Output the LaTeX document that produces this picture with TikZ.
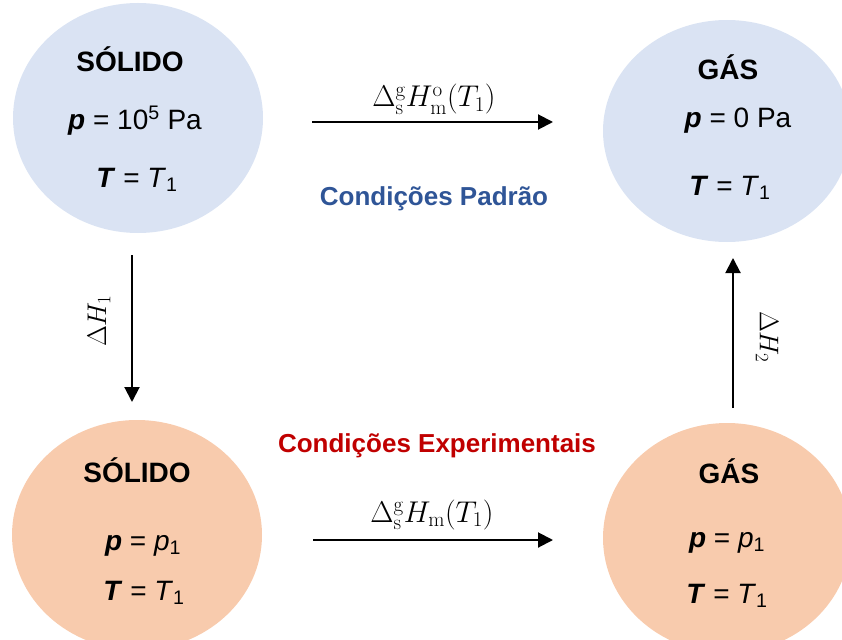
\RequirePackage{fix-cm}
\documentclass[tikz,border=0pt]{standalone}
\usepackage[no-math]{fontspec}
\setmainfont{Liberation Sans}
\usetikzlibrary{shapes.geometric,arrows.meta}
\definecolor{padfill}{HTML}{DAE3F3}
\definecolor{expfill}{HTML}{F8CBAD}
\definecolor{padtxt}{HTML}{2F5597}
\definecolor{exptxt}{HTML}{C00000}
\newcommand{\bp}{\textbf{\textit{p}}}
\newcommand{\bT}{\textbf{\textit{T}}}
\begin{document}
\begin{tikzpicture}[x=1pt,y=-1pt,
  stateell/.style={ellipse,draw=none,inner sep=0pt},
  txt/.style={anchor=base,inner sep=0pt,font=\fontsize{28}{30}\selectfont},
  cond/.style={anchor=base,inner sep=0pt,font=\fontsize{26}{30}\selectfont\bfseries},
  mlabel/.style={inner sep=0pt,font=\fontsize{30}{33}\selectfont},
  vlabel/.style={inner sep=0pt,font=\fontsize{27}{30}\selectfont},
  conn/.style={line width=2pt,-{Triangle[length=15pt,width=15pt]}}]
\useasboundingbox (0,0) rectangle (842,639);
\clip (0,0) rectangle (842,639);
% ellipses
\node[stateell,fill=padfill,minimum width=250pt,minimum height=230pt] (sp) at (138,118) {};
\node[stateell,fill=padfill,minimum width=248pt,minimum height=222pt] (gp) at (727,131) {};
\node[stateell,fill=expfill,minimum width=250pt,minimum height=230pt] (se) at (137,535) {};
\node[stateell,fill=expfill,minimum width=248pt,minimum height=230pt] (ge) at (727,538) {};
% texts top-left
\node[txt] (sp1) at (130,72) {\bfseries SÓLIDO};
\node[txt] (sp2) at (135,130) {\bp{} = 10\textsuperscript{5} Pa};
\node[txt] (sp3) at (137,187) {\bT{} = \textit{T}\textsubscript{1}};
% texts top-right
\node[txt] (gp1) at (728,80) {\bfseries GÁS};
\node[txt] (gp2) at (738,128) {\bp{} = 0 Pa};
\node[txt] (gp3) at (730,195) {\bT{} = \textit{T}\textsubscript{1}};
% texts bottom-left
\node[txt] (se1) at (137,482) {\bfseries SÓLIDO};
\node[txt] (se2) at (143,550) {\bp{} = \textit{p}\textsubscript{1}};
\node[txt] (se3) at (144,600) {\bT{} = \textit{T}\textsubscript{1}};
% texts bottom-right
\node[txt] (ge1) at (729,483) {\bfseries GÁS};
\node[txt] (ge2) at (727,547) {\bp{} = \textit{p}\textsubscript{1}};
\node[txt] (ge3) at (727,603) {\bT{} = \textit{T}\textsubscript{1}};
% condition labels
\node[cond,text=padtxt] (cp) at (434,205) {Condições Padrão};
\node[cond,text=exptxt] (ce) at (437,452) {Condições Experimentais};
% arrow endpoints
\coordinate (a1s) at (312,122); \coordinate (a1e) at (553,122);
\coordinate (a2s) at (313,540); \coordinate (a2e) at (553,540);
\coordinate (a3s) at (132,255); \coordinate (a3e) at (132,402);
\coordinate (a4s) at (733,408); \coordinate (a4e) at (733,258);
\draw[conn] (a1s) -- (a1e);
\draw[conn] (a2s) -- (a2e);
\draw[conn] (a3s) -- (a3e);
\draw[conn] (a4s) -- (a4e);
% arrow labels
\node[mlabel,anchor=base] (l1) at (434,107) {$\Delta_{\mathrm{s}}^{\mathrm{g}}H_{\mathrm{m}}^{\mathrm{o}}(T_1)$};
\node[mlabel,anchor=base] (l2) at (432,522) {$\Delta_{\mathrm{s}}^{\mathrm{g}}H_{\mathrm{m}}(T_1)$};
\node[vlabel,rotate=90] (l3) at (99,321) {$\Delta H_1$};
\node[vlabel,rotate=-90] (l4) at (767,337) {$\Delta H_2$};
\end{tikzpicture}
\end{document}
